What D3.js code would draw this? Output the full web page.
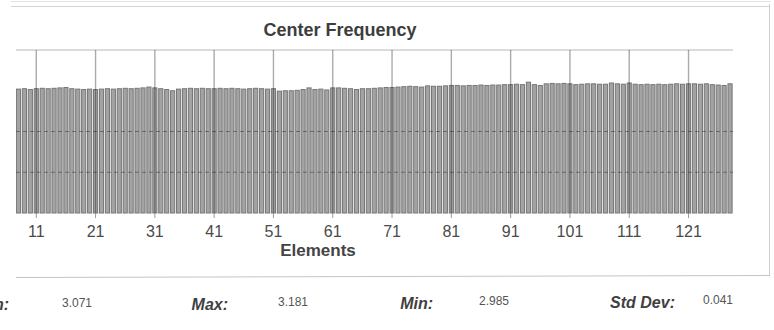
<!DOCTYPE html>
<html>
<head>
<meta charset="utf-8">
<script src="https://cdn.jsdelivr.net/npm/d3@7/dist/d3.min.js"></script>
<style>
  html, body { margin: 0; padding: 0; background: #fff; }
  svg { display: block; font-family: "Liberation Sans", Arial, sans-serif; }
  svg text { font-family: "Liberation Sans", Arial, sans-serif; }
</style>
</head>
<body>
<svg id="chart" width="774" height="330"></svg>
<script>
// ---- data ----
const title = "Center Frequency";
const xTitle = "Elements";
const elements = d3.range(1, 129);
const centerFreq = [
  3.05,3.06,3.04,3.05,3.06,3.05,3.06,3.04,3.05,3.03,
  3.05,3.06,3.05,3.06,3.07,3.08,3.05,3.04,3.03,3.04,
  3.03,3.04,3.05,3.04,3.05,3.06,3.05,3.06,3.07,3.09,
  3.07,3.05,3.03,3.00,3.04,3.05,3.06,3.05,3.06,3.05,
  3.05,3.06,3.05,3.06,3.05,3.04,3.05,3.06,3.05,3.04,
  3.05,2.99,3.00,3.00,3.01,3.03,3.07,3.03,3.04,3.02,
  3.07,3.07,3.06,3.05,3.03,3.05,3.05,3.06,3.07,3.08,
  3.08,3.09,3.10,3.11,3.10,3.09,3.12,3.11,3.11,3.12,
  3.13,3.13,3.12,3.13,3.13,3.14,3.13,3.14,3.14,3.15,
  3.15,3.16,3.15,3.21,3.15,3.13,3.17,3.18,3.17,3.18,
  3.17,3.15,3.16,3.17,3.17,3.16,3.16,3.19,3.17,3.16,
  3.19,3.16,3.15,3.16,3.15,3.16,3.15,3.16,3.17,3.16,
  3.17,3.17,3.16,3.17,3.15,3.14,3.13,3.17
];
const xTickValues = [11,21,31,41,51,61,71,81,91,101,111,121];
const yGridValues = [1, 2];
const yTop = 4;
const statLabels = ["Mean:", "Max:", "Min:", "Std Dev:"];
const statValues = ["3.071", "3.181", "2.985", "0.041"];

// ---- layout ----
const svg = d3.select("#chart");
const W = 774, H = 330;
const plotLeft = 16, plotRight = 733, plotTop = 50, plotBottom = 213;

const x = d3.scaleBand().domain(elements).range([-26, 733]).paddingInner(0.3).paddingOuter(0.15);
const y = d3.scaleLinear().domain([0, yTop]).range([plotBottom, plotTop]);

svg.append("rect").attr("width", W).attr("height", H).attr("fill", "#fff");

// outer frame (scanned panel edges)
svg.append("line").attr("x1", 11).attr("x2", 770).attr("y1", 1.5).attr("y2", 1.5)
  .attr("stroke", "#e2e2e2").attr("stroke-width", 1);
svg.append("line").attr("x1", 11).attr("x2", 770).attr("y1", 6.5).attr("y2", 6.5)
  .attr("stroke", "#d4d4d4").attr("stroke-width", 1);
svg.append("line").attr("x1", 769.5).attr("x2", 769.5).attr("y1", 4).attr("y2", 276)
  .attr("stroke", "#cfcfcf").attr("stroke-width", 1);
svg.append("line").attr("x1", 16).attr("x2", 770).attr("y1", 277.5).attr("y2", 275.5)
  .attr("stroke", "#c4c4c4").attr("stroke-width", 1);

// title
svg.append("text").attr("x", 340).attr("y", 36).attr("text-anchor", "middle")
  .attr("font-size", 18).attr("font-weight", "bold").attr("fill", "#3d3d3d").text(title);

svg.append("defs").append("clipPath").attr("id", "plotClip")
  .append("rect").attr("x", plotLeft).attr("y", 0).attr("width", W - plotLeft).attr("height", H);

const g = svg.append("g").attr("clip-path", "url(#plotClip)");

// top grid line
g.append("line").attr("x1", plotLeft).attr("x2", plotRight)
  .attr("y1", y(yTop)).attr("y2", y(yTop)).attr("stroke", "#b8b8b8");

// bars
g.selectAll("rect.bar").data(elements).join("rect").attr("class", "bar")
  .attr("x", d => x(d))
  .attr("width", x.bandwidth())
  .attr("y", (d, i) => y(centerFreq[i]))
  .attr("height", (d, i) => y(0) - y(centerFreq[i]))
  .attr("fill", "#a3a3a3")
  .attr("stroke", "#767676")
  .attr("stroke-width", 1);

// horizontal dashed grid lines
g.selectAll("line.hgrid").data(yGridValues).join("line").attr("class", "hgrid")
  .attr("x1", plotLeft).attr("x2", plotRight)
  .attr("y1", d => y(d)).attr("y2", d => y(d))
  .attr("stroke", "rgba(0,0,0,0.35)").attr("stroke-dasharray", "4,3");

// vertical grid lines at ticks
g.selectAll("line.vgrid").data(xTickValues).join("line").attr("class", "vgrid")
  .attr("x1", d => x(d) + x.bandwidth() / 2).attr("x2", d => x(d) + x.bandwidth() / 2)
  .attr("y1", y(yTop)).attr("y2", plotBottom)
  .attr("stroke", "rgba(0,0,0,0.33)").attr("stroke-width", 1.4);

// x axis (ticks + labels)
const xAxis = d3.axisBottom(x).tickValues(xTickValues).tickSize(5).tickPadding(8).tickSizeOuter(0);
const ax = svg.append("g").attr("transform", `translate(0,${plotBottom})`).call(xAxis);
ax.attr("font-family", null);
ax.select(".domain").remove();
ax.selectAll(".tick line").attr("stroke", "#999");
ax.selectAll(".tick text").attr("font-size", 16).attr("fill", "#4a4a4a")
  .style("font-family", '"Liberation Sans", Arial, sans-serif');

// x title
svg.append("text").attr("x", 318).attr("y", 256).attr("text-anchor", "middle")
  .attr("font-size", 17).attr("font-weight", "bold").attr("fill", "#444").text(xTitle);

// stats row
const labelRight = [9, 228, 433, 675];
const valueLeft = [62, 278, 479, 703];
const labelY = [310, 310, 309, 308];
const valueY = [307, 306, 305, 304];
svg.selectAll("text.slabel").data(statLabels).join("text").attr("class", "slabel")
  .attr("x", (d, i) => labelRight[i]).attr("y", (d, i) => labelY[i])
  .attr("text-anchor", "end").attr("font-size", 16).attr("font-weight", "bold")
  .attr("font-style", "italic").attr("fill", "#3f3f3f").text(d => d);
svg.selectAll("text.svalue").data(statValues).join("text").attr("class", "svalue")
  .attr("x", (d, i) => valueLeft[i]).attr("y", (d, i) => valueY[i])
  .attr("font-size", 12).attr("fill", "#555").text(d => d);
</script>
</body>
</html>
